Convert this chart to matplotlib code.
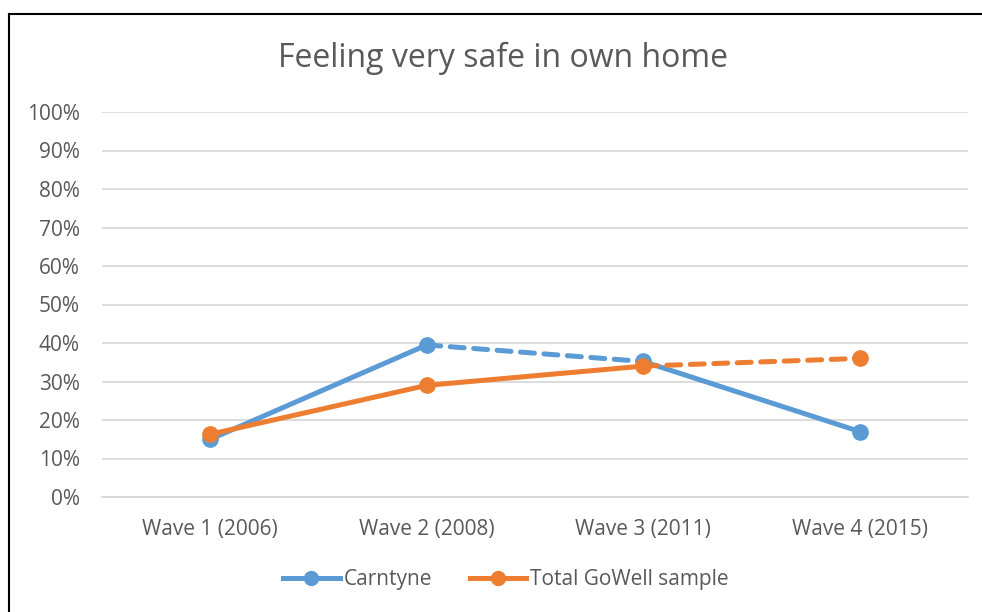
import matplotlib
matplotlib.use("Agg")
import matplotlib.pyplot as plt
from matplotlib.lines import Line2D
from matplotlib.ticker import FuncFormatter

plt.rcParams['font.family'] = ['Open Sans', 'DejaVu Sans']

categories = ["Wave 1 (2006)", "Wave 2 (2008)", "Wave 3 (2011)", "Wave 4 (2015)"]
carntyne = [15.0, 39.5, 35.2, 17.0]
total_gowell = [16.3, 29.0, 34.0, 36.0]
yticks = [0, 10, 20, 30, 40, 50, 60, 70, 80, 90, 100]

BLUE = "#5B9BD5"
ORANGE = "#ED7D31"
TXT = "#595959"
GRID = "#D9D9D9"

fig = plt.figure(figsize=(9.82, 6.12), dpi=100)
ax = fig.add_axes([102/982, 1-497/612, (968-102)/982, (497-112)/612])

x = list(range(len(categories)))
lw = 3.6
ms = 11
dash = (0, (2.8, 1.9))
FS = 15

def seg(vals, i0, i1, color, style):
    ax.plot(x[i0:i1+1], vals[i0:i1+1], color=color, lw=lw, linestyle=style,
            solid_capstyle='round', dash_capstyle='round', zorder=3)

# Carntyne: solid, dashed, solid
seg(carntyne, 0, 1, BLUE, '-')
seg(carntyne, 1, 2, BLUE, dash)
seg(carntyne, 2, 3, BLUE, '-')
ax.plot(x, carntyne, linestyle='none', marker='o', ms=ms, color=BLUE, zorder=4)

# Total GoWell: solid, solid, dashed
seg(total_gowell, 0, 2, ORANGE, '-')
seg(total_gowell, 2, 3, ORANGE, dash)
ax.plot(x, total_gowell, linestyle='none', marker='o', ms=ms, color=ORANGE, zorder=5)

ax.set_xlim(-0.5, 3.5)
ax.set_ylim(0, 100)
ax.set_yticks(yticks)
ax.yaxis.set_major_formatter(FuncFormatter(lambda v, p: f"{int(v)}%"))
ax.set_xticks(x)
ax.set_xticklabels(categories)
ax.grid(axis='y', color=GRID, lw=1.3)
ax.set_axisbelow(True)
for s in ['top', 'right', 'left']:
    ax.spines[s].set_visible(False)
ax.spines['bottom'].set_color(GRID)
ax.spines['bottom'].set_linewidth(1.3)
ax.tick_params(axis='both', length=0, labelsize=FS, labelcolor=TXT)
ax.tick_params(axis='y', pad=16)
ax.tick_params(axis='x', pad=16)

fig.text(503/982, 1-58/612, "Feeling very safe in own home", ha='center', va='center',
         fontsize=23, color=TXT)

handles = [Line2D([0], [0], color=BLUE, lw=lw, marker='o', ms=ms - 1),
           Line2D([0], [0], color=ORANGE, lw=lw, marker='o', ms=ms - 1)]
leg = fig.legend(handles, ["Carntyne", "Total GoWell sample"], loc='center',
                 bbox_to_anchor=(506/982, 1-580/612), ncol=2, frameon=False,
                 fontsize=FS, handlelength=2.7, handletextpad=0.2, columnspacing=1.8)
for t in leg.get_texts():
    t.set_color(TXT)

# outer frame (only top and left edges visible)
fig.add_artist(Line2D([8.5/982, 8.5/982], [0, 1-14/612], color='black', lw=1.5,
                      transform=fig.transFigure))
fig.add_artist(Line2D([8.5/982, 1], [1-14/612, 1-14/612], color='black', lw=1.5,
                      transform=fig.transFigure))

fig.savefig("out.png", dpi=100)
